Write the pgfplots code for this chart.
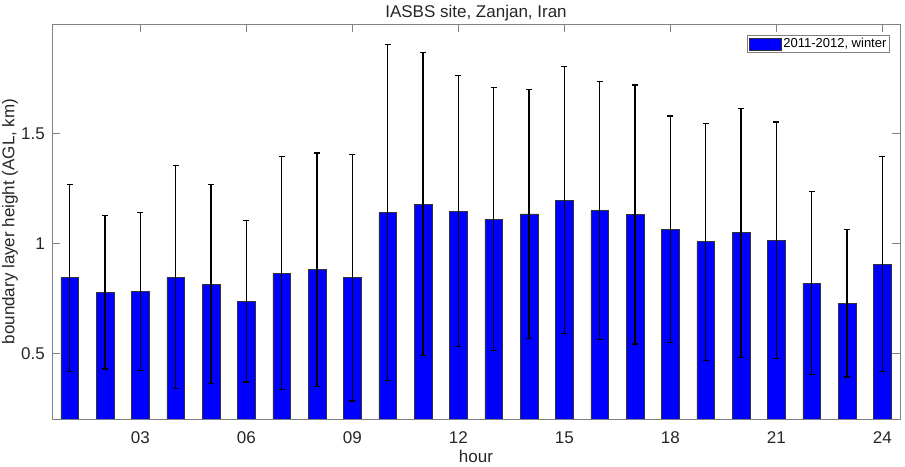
\documentclass[border=0pt]{standalone}
\usepackage{fontspec}
\setmainfont{Liberation Sans}
\usepackage{pgfplots}
\pgfplotsset{compat=1.18}
\usepackage{pgfplotstable}

\definecolor{axgray}{gray}{0.5}
\definecolor{txt}{gray}{0.15}

% hour, mean height, std (km)
\pgfplotstableread{
h  v     e
1  0.844 0.426
2  0.778 0.350
3  0.781 0.359
4  0.846 0.508
5  0.815 0.455
6  0.737 0.368
7  0.865 0.530
8  0.880 0.532
9  0.844 0.562
10 1.140 0.765
11 1.179 0.691
12 1.147 0.617
13 1.111 0.600
14 1.135 0.568
15 1.197 0.608
16 1.149 0.588
17 1.132 0.590
18 1.065 0.516
19 1.008 0.540
20 1.049 0.567
21 1.014 0.539
22 0.819 0.416
23 0.728 0.337
24 0.906 0.490
}\blh

\begin{document}
\begin{tikzpicture}
\begin{axis}[
  set layers,
  scale only axis, width=848pt, height=395pt,
  xmin=0.5, xmax=24.5, ymin=0.2, ymax=2.0,
  xtick={3,6,9,12,15,18,21,24},
  xticklabels={03,06,09,12,15,18,21,24},
  ytick={0.5,1,1.5},
  tick align=inside,
  major tick length=8pt,
  tick style={axgray, line width=0.8pt},
  axis line style={axgray, line width=0.8pt},
  /pgf/number format/assume math mode=true,
  tick label style={font=\fontsize{17}{20}\selectfont, text=txt},
  xticklabel style={anchor=base, yshift=-24pt},
  yticklabel style={anchor=east, inner sep=0pt, xshift=-7pt},
  title={IASBS site, Zanjan, Iran},
  title style={at={(axis description cs:0.5,1)}, anchor=base, yshift=0.5pt, font=\fontsize{17}{20}\selectfont, text=txt},
  xlabel={hour},
  xlabel style={at={(axis description cs:0.5,-0.109)}, anchor=base, font=\fontsize{17}{20}\selectfont, text=txt},
  ylabel={boundary layer height (AGL, km)},
  ylabel style={at={(axis description cs:-0.0495,0.5)}, anchor=center, font=\fontsize{17}{20}\selectfont, text=txt},
  legend style={at={(0.988,0.972)}, anchor=north east, draw=axgray, line width=0.8pt,
    font=\fontsize{13}{15}\selectfont, text=black, inner sep=1pt},
  legend image code/.code={\draw[fill=blue, draw=black!80, line width=0.6pt] (0pt,-6pt) rectangle (32pt,6pt);},
]
\addplot[ybar, bar width=0.5, fill=blue, draw=black!80, line width=0.6pt]
  table[x=h, y=v] {\blh};
\addlegendentry{2011-2012, winter}
% error bars on top of the bars
\addplot[draw=none, forget plot, on layer=axis foreground,
  error bars/.cd, y dir=both, y explicit,
  error mark=-,
  error bar style={draw=black, line width=1.2pt},
  error mark options={draw=black, rotate=90, mark size=3pt, line width=1.2pt}]
  table[x=h, y=v, y error=e] {\blh};
\coordinate (sw) at (rel axis cs:0,0);
\coordinate (ne) at (rel axis cs:1,1);
\end{axis}
\pgfresetboundingbox
\path ([shift={(-52pt,-47pt)}]sw) rectangle ([shift={(5pt,24pt)}]ne);
\end{tikzpicture}
\end{document}
